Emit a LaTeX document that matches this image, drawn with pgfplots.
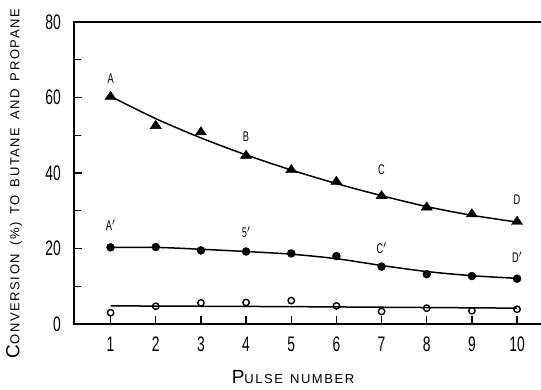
\documentclass[border=0pt]{standalone}
\usepackage{pgfplots}
\pgfplotsset{compat=1.18}
\usepackage{fontspec}
\setmainfont{Liberation Sans}
\newfontfamily\tickfont[FakeStretch=0.66]{Liberation Sans}
\newfontfamily\labfont[LetterSpace=12]{Liberation Sans}
\newcommand\LC[1]{{\labfont\fontsize{19}{19}\selectfont #1}}
\newcommand\SC[1]{{\labfont\fontsize{13}{13}\selectfont #1}}
\pgfplotstableread{
x y
1 60.2
2 52.5
3 50.8
4 44.6
5 40.8
6 37.7
7 33.9
8 30.9
9 29.1
10 27.1
}\tridata
\pgfplotstableread{
x y
1 60.3
2 54.4
3 49.3
4 44.8
5 40.8
6 37.2
7 34.0
8 31.1
9 28.8
10 27.0
}\tricurve
\pgfplotstableread{
x y
1 20.3
2 20.4
3 19.5
4 19.2
5 18.7
6 18.0
7 15.2
8 13.2
9 12.7
10 12.0
}\fildata
\pgfplotstableread{
x y
1 20.3
2 20.3
3 19.8
4 19.2
5 18.5
6 17.3
7 15.5
8 13.9
9 12.8
10 12.1
}\filcurve
\pgfplotstableread{
x y
1 3.0
2 4.7
3 5.6
4 5.7
5 6.2
6 4.8
7 3.3
8 4.2
9 3.5
10 3.9
}\opndata
\pgfplotstableread{
x y
1 4.8
5 4.6
10 4.2
}\opncurve
\begin{document}
\begin{tikzpicture}
\path[use as bounding box] (-74pt,-66pt) rectangle (467pt,324pt);
\begin{axis}[
  at={(0,0)}, anchor=south west,
  scale only axis, width=474pt, height=302pt,
  xmin=0.19, xmax=10.685, ymin=0, ymax=80,
  tick align=inside, tick pos=left,
  xtick={1,...,10}, ytick={0,20,40,60,80},
  minor ytick={10,30,50,70},
  major tick length=8pt, minor tick length=7pt,
  major tick style={black, line width=1.2pt},
  minor tick style={black, line width=1.2pt},
  axis line style={line width=1.3pt},
  /pgf/number format/assume math mode=true,
  ticklabel style={font=\tickfont\fontsize{21}{21}\selectfont, inner sep=0pt},
  xticklabel style={anchor=north, yshift=-13pt},
  yticklabel style={anchor=east, xshift=-13pt},
  xlabel={\LC{P}\SC{ULSE}\hspace{7pt}\SC{NUMBER}},
  xlabel style={at={(axis description cs:0.462,0)}, anchor=base, yshift=-60pt},
  ylabel={\LC{C}\SC{ONVERSION}\hspace{8pt}\SC{(\%)}\hspace{8pt}\SC{TO}\hspace{8pt}\SC{BUTANE}\hspace{8pt}\SC{AND}\hspace{8pt}\SC{PROPANE}},
  ylabel style={at={(axis description cs:-0.1266,0.465)}, anchor=center},
  clip=false,
]
\addplot[black, line width=1.5pt, smooth, no marks] table {\tricurve};
\addplot[black, only marks, mark=triangle*, mark size=6.5pt, mark options={yscale=0.85}] table {\tridata};
\addplot[black, line width=1.5pt, smooth, no marks] table {\filcurve};
\addplot[black, only marks, mark=*, mark size=4pt] table {\fildata};
\addplot[black, line width=1.5pt, no marks] table {\opncurve};
\addplot[black, only marks, mark=o, mark size=3.2pt, mark options={line width=1.4pt, fill=white}] table {\opndata};
\pgfplotsinvokeforeach{1,...,10}{\draw[black, line width=1.2pt] (axis cs:#1,0) -- ++(0pt,8pt);}
\pgfplotsinvokeforeach{10,20,...,70}{\draw[black, line width=1.2pt] (axis cs:0.19,#1) -- ++(7pt,0pt);}
\begin{scope}[every node/.style={font=\tickfont\fontsize{14}{14}\selectfont}]
\node at (axis cs:1,64.9) {A};
\node at (axis cs:4,49.6) {B};
\node at (axis cs:7,40.8) {C};
\node at (axis cs:10,32.8) {D};
\node at (axis cs:1,26.2) {A$'$};
\node at (axis cs:4,24.3) {5$'$};
\node at (axis cs:7,20.1) {C$'$};
\node at (axis cs:10,17.7) {D$'$};
\end{scope}
\end{axis}
\end{tikzpicture}
\end{document}
